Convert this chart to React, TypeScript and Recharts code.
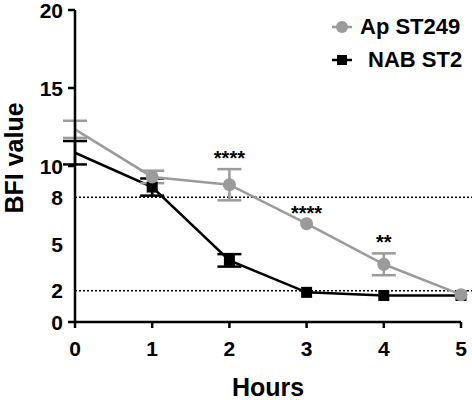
import React from 'react';
import {
  LineChart,
  Line,
  XAxis,
  YAxis,
  ReferenceLine,
  ErrorBar,
  LabelList,
} from 'recharts';

// values (mean ± SEM)
const hours = [0, 1, 2, 3, 4, 5];
const apST249 = [12.35, 9.3, 8.8, 6.3, 3.7, 1.75];
const apST249Err = [0.55, 0.4, 1.0, null, 0.7, null];
const nabST2 = [10.85, 8.65, 3.95, 1.9, 1.7, 1.7];
const nabST2Err = [0.75, 0.55, 0.4, null, null, null];
const significance = ['', '', '****', '****', '**', ''];
const yTicks = [0, 2, 5, 8, 10, 15, 20];
const yTickMarks = [0, 10, 15, 20];
const xTicks = [0, 1, 2, 3, 4, 5];
const cutoffs = [8, 2];

const GREY = '#9b9b9b';
const FONT = '"Liberation Sans", Arial, sans-serif';

const data = hours.map((h, i) => ({
  hour: h,
  ap: apST249[i],
  apErr: apST249Err[i],
  nab: nabST2[i],
  nabErr: nabST2Err[i],
  sig: significance[i],
  sigY: significance[i] ? apST249[i] + (apST249Err[i] || 0) : null,
}));

const YTick = (props: any) => {
  const { x, y, payload } = props;
  const major = yTickMarks.includes(payload.value);
  return (
    <g>
      {major && <line x1={x + 5} x2={x + 12} y1={y} y2={y} stroke="#000" strokeWidth={2.5} />}
      <text x={x} y={y} dy="0.36em" textAnchor="end" fontSize={21} fontWeight="bold" fontFamily={FONT} fill="#000">
        {payload.value}
      </text>
    </g>
  );
};

const circleDot = (props: any) => {
  const { cx, cy, index } = props;
  if (index === 0 || cx == null) return <g key={`c${index}`} />;
  return <circle key={`c${index}`} cx={cx} cy={cy} r={6.5} fill={GREY} />;
};

const squareDot = (props: any) => {
  const { cx, cy, index } = props;
  if (index === 0 || cx == null) return <g key={`s${index}`} />;
  return <rect key={`s${index}`} x={cx - 5.5} y={cy - 5.5} width={11} height={11} fill="#000" />;
};

const LegendRow = ({ color, square, label, indent }: any) => (
  <div style={{ display: 'flex', alignItems: 'center', height: 33 }}>
    <svg width={24} height={14} style={{ marginRight: 6 + indent }}>
      <line x1={2} x2={22} y1={7} y2={7} stroke={color} strokeWidth={2.5} />
      {square ? <rect x={7} y={2} width={10} height={10} fill={color} /> : <circle cx={12} cy={7} r={6} fill={color} />}
    </svg>
    <span style={{ fontFamily: FONT, fontWeight: 'bold', fontSize: 22, color: '#000' }}>{label}</span>
  </div>
);

export default function App() {
  return (
    <div style={{ position: 'absolute', left: 0, top: 0, width: 472, height: 400, background: '#fff' }}>
      <LineChart width={472} height={400} data={data} margin={{ top: 10, right: 11, left: 0, bottom: 0 }}>
        <XAxis
          dataKey="hour"
          type="number"
          domain={[0, 5]}
          ticks={xTicks}
          height={78}
          axisLine={{ stroke: '#000', strokeWidth: 2.5 }}
          tickLine={{ stroke: '#000', strokeWidth: 2.5 }}
          tickSize={6}
          tickMargin={13}
          tick={{ fontSize: 21, fontWeight: 'bold', fill: '#000', fontFamily: FONT }}
          label={{ value: 'Hours', position: 'insideBottom', offset: 4, fontSize: 25, fontWeight: 'bold', fill: '#000', fontFamily: FONT }}
        />
        <YAxis
          type="number"
          domain={[0, 20]}
          ticks={yTicks}
          width={75}
          axisLine={{ stroke: '#000', strokeWidth: 2.5 }}
          tickLine={false}
          tickSize={7}
          tickMargin={5}
          tick={<YTick />}
          label={() => (
            <text
              x={14}
              y={158}
              transform="rotate(-90 14 158)"
              textAnchor="middle"
              dominantBaseline="central"
              fontSize={25}
              fontWeight="bold"
              fontFamily={FONT}
              fill="#000"
            >
              BFI value
            </text>
          )}
        />
        {cutoffs.map((c) => (
          <ReferenceLine
            key={c}
            segment={[{ x: 0, y: c }, { x: 5.15, y: c }]}
            ifOverflow="visible"
            stroke="#000"
            strokeWidth={1.5}
            strokeDasharray="2 2"
          />
        ))}
        <Line
          dataKey="nab"
          stroke="#000"
          strokeWidth={2.5}
          dot={squareDot}
          isAnimationActive={false}
        >
          <ErrorBar dataKey="nabErr" direction="y" width={12} stroke="#000" strokeWidth={2.5} />
        </Line>
        <Line
          dataKey="ap"
          stroke={GREY}
          strokeWidth={2.5}
          dot={circleDot}
          isAnimationActive={false}
        >
          <ErrorBar dataKey="apErr" direction="y" width={12} stroke={GREY} strokeWidth={2.5} />
        </Line>
        <Line dataKey="sigY" stroke="none" dot={false} isAnimationActive={false} legendType="none">
          <LabelList dataKey="sig" position="top" offset={4} fontSize={20} fontWeight="bold" fill="#000" fontFamily={FONT} />
        </Line>
      </LineChart>
      <div style={{ position: 'absolute', left: 330, top: 10 }}>
        <LegendRow color={GREY} label="Ap ST249" indent={0} />
        <LegendRow color="#000" square label="NAB ST2" indent={8} />
      </div>
    </div>
  );
}
